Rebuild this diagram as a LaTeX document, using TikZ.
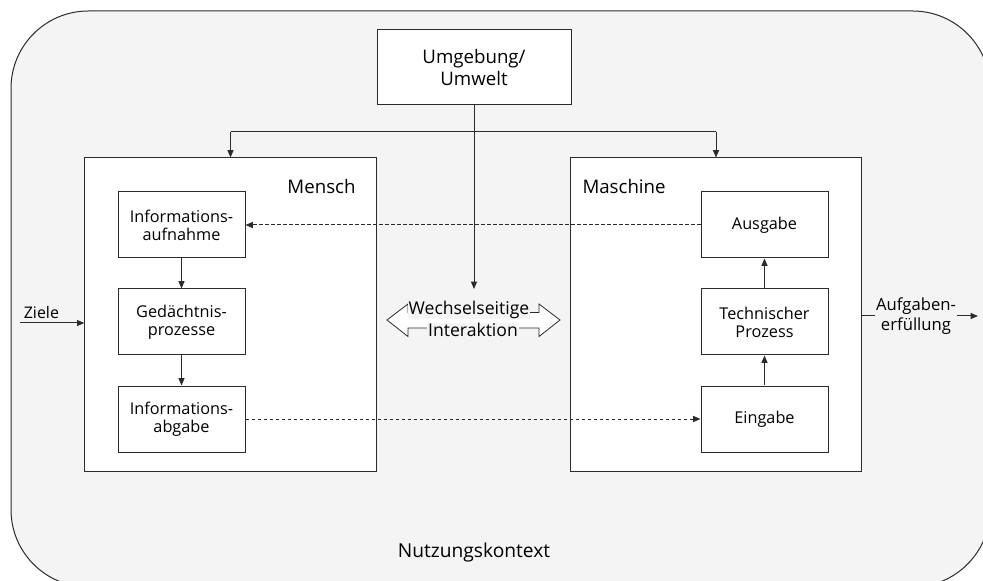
\documentclass[tikz,border=0pt]{standalone}
\usepackage{fontspec}
\setmainfont{Open Sans}
\usepackage{xcolor}
\usetikzlibrary{arrows.meta,positioning,calc}
\definecolor{bggray}{HTML}{F4F4F4}
\definecolor{edgegray}{HTML}{2B2B2B}

\begin{document}
\begin{tikzpicture}[x=0.75pt,y=-0.75pt,
  line width=0.75pt, draw=edgegray,
  >={Triangle[length=5.5pt,width=4.5pt]},
  box/.style={draw=edgegray, fill=white},
  bigbox/.style={box, minimum width=218.5pt, minimum height=234.75pt},
  subbox/.style={box, minimum width=95.25pt, minimum height=49.5pt, align=center, font=\fontsize{12.2}{13.6}\selectfont},
  txt/.style={font=\fontsize{14}{16.5}\selectfont, align=center}]
\useasboundingbox (0,0) rectangle (983,581);
\draw[fill=bggray, rounded corners=58pt] (11,11) rectangle (990,587);
\node[txt, font=\fontsize{14.4}{17}\selectfont] (kontext) at (474,553) {Nutzungskontext};

% Umgebung und Systeme
\node[box, txt, minimum width=145.5pt, minimum height=56.25pt] (umg) at (474,67.5) {Umgebung/\\Umwelt};
\node[bigbox] (mensch) at (230.5,314.5) {};
\node[bigbox] (maschine) at (716,314.5) {};
\node[txt, anchor=east, inner sep=0pt] (menschlab) at (356,187) {Mensch};
\node[txt, anchor=west, inner sep=0pt] (maschlab) at (582,187) {Maschine};

\foreach \n/\x/\y/\lab in {aufn/181.5/225/{Informations-\\aufnahme}, gedae/181.5/322/{Gedächtnis-\\prozesse},
  abg/181.5/419/{Informations-\\abgabe}, ausg/764.5/225/{Ausgabe}, tech/764.5/322/{Technischer\\Prozess},
  eing/764.5/419/{Eingabe}}{
  \node[subbox] (\n) at (\x,\y) {\lab};
}
\draw[->] (aufn) -- (gedae);
\draw[->] (gedae) -- (abg);
\draw[->] (eing) -- (tech);
\draw[->] (tech) -- (ausg);
\draw[->, dash pattern=on 2.5pt off 2pt] (ausg) -- (aufn);
\draw[->, dash pattern=on 2.5pt off 2pt] (abg) -- (eing);

% Verbindungen von der Umgebung
\coordinate (split) at (474,132);
\coordinate (wtop) at (474,289);
\draw[->] (split -| mensch.north) -- (mensch.north);
\draw[->] (split -| maschine.north) -- (maschine.north);
\draw (split -| mensch.north) -- (split -| maschine.north);
\draw[->] (umg.south) -- (wtop);

% Wechselseitige Interaktion
\draw[fill=white, line width=0.6pt] (387,320) -- (408,304) -- (408,312.5) -- (539,312.5) -- (539,304) -- (560,320)
  -- (539,336.5) -- (539,328) -- (408,328) -- (408,336.5) -- cycle;
\node[txt, fill=bggray, inner xsep=0.5pt, inner ysep=0pt, font=\fontsize{13.2}{15}\selectfont] (wi1) at (469,310) {Wechselseitige};
\node[txt, fill=bggray, inner xsep=0.5pt, inner ysep=0pt, font=\fontsize{13.2}{15}\selectfont] (wi2) at (473,329.5) {Interaktion};

% Ziele und Aufgabenerfuellung
\coordinate (zstart) at (20,323);
\draw[->] (zstart) -- (zstart -| mensch.west);
\node[txt, anchor=south west, inner sep=1pt, font=\fontsize{12}{14}\selectfont] (ziele) at (22,320) {Ziele};
\coordinate (aend) at (978,316);
\draw[->] (aend -| maschine.east) -- (aend);
\node[txt, fill=bggray, inner sep=0.5pt, font=\fontsize{12.5}{14.5}\selectfont] (aufg) at (916,316) {Aufgaben-\\erfüllung};
\end{tikzpicture}
\end{document}
